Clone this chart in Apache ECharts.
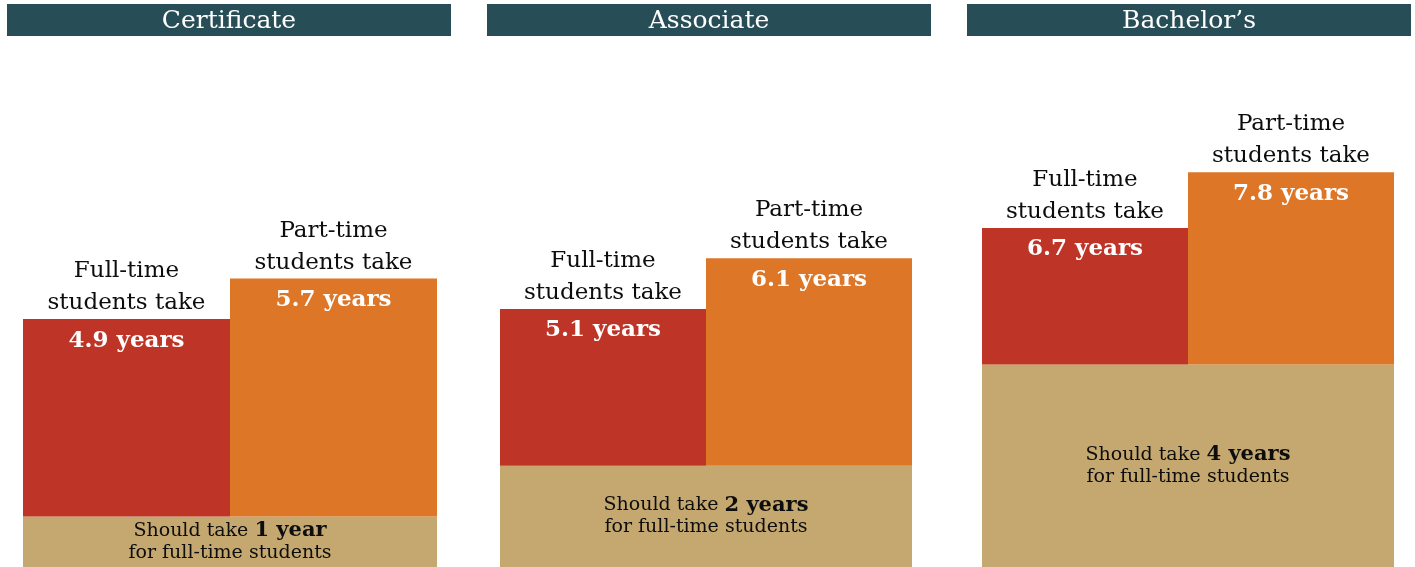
<!DOCTYPE html>
<html>
<head>
<meta charset="utf-8">
<script src="https://cdn.jsdelivr.net/npm/echarts@6/dist/echarts.min.js"></script>
<style>html,body{margin:0;padding:0;background:#fff;}#c{width:1415px;height:567px;}</style>
</head>
<body>
<div id="c"></div>
<script>
// ---- data ----
const degrees = ['Certificate', 'Associate', 'Bachelor\u2019s'];
const shouldTake = [1, 2, 4];
const fullTime = [4.9, 5.1, 6.7];
const partTime = [5.7, 6.1, 7.8];
const groupLabels = ['Full-time\nstudents take', 'Part-time\nstudents take'];
const shouldTakeUnits = ['year', 'years', 'years'];

// ---- style ----
const FONT = "Rockwell, 'DejaVu Serif', serif";
const RED = '#BE3427', ORANGE = '#DD7627', TAN = '#C4A86F', HEAD = '#274D57';
const panelLeft = [23, 500, 982];
const panelWidth = [414, 412, 412];
const headLeft = [7, 487, 967];
const HW = 444;

const grids = [], xAxes = [], yAxes = [], series = [], graphics = [];
degrees.forEach((d, i) => {
  grids.push({left: panelLeft[i], width: panelWidth[i], top: 61, height: 507});
  xAxes.push({type: 'category', gridIndex: i, data: ['Full-time', 'Part-time'], show: false});
  xAxes.push({type: 'category', gridIndex: i, data: ['base'], show: false});
  yAxes.push({type: 'value', gridIndex: i, min: 0, max: 10, show: false});
  const xa = i * 2, xb = i * 2 + 1;
  // base (should take)
  series.push({
    type: 'bar', xAxisIndex: xb, yAxisIndex: i, data: [shouldTake[i]],
    barWidth: '100%', itemStyle: {color: TAN}, silent: true, z: 1,
    label: {show: true, position: 'inside', fontFamily: FONT, color: '#0d0d0d',
      formatter: () => 'Should take {b|' + shouldTake[i] + ' ' + shouldTakeUnits[i] + '}\nfor full-time students',
      fontSize: 19, lineHeight: 22,
      rich: {b: {fontFamily: FONT, fontSize: 21, fontWeight: 'bold', color: '#0d0d0d', lineHeight: 22}}}
  });
  // transparent placeholder so the actual bars begin at the base
  series.push({
    type: 'bar', xAxisIndex: xa, yAxisIndex: i, stack: 's' + i,
    data: [shouldTake[i], shouldTake[i]], barCategoryGap: 0,
    itemStyle: {color: 'rgba(0,0,0,0)'}, silent: true, z: 2
  });
  const totals = [fullTime[i], partTime[i]];
  series.push({
    type: 'bar', xAxisIndex: xa, yAxisIndex: i, stack: 's' + i, barCategoryGap: 0, z: 3,
    data: [
      {value: +(fullTime[i] - shouldTake[i]).toFixed(2), itemStyle: {color: RED}},
      {value: +(partTime[i] - shouldTake[i]).toFixed(2), itemStyle: {color: ORANGE}}
    ],
    label: {show: true, position: 'insideTop', distance: 10, color: '#fff',
      fontFamily: FONT, fontWeight: 'bold', fontSize: 23,
      formatter: p => totals[p.dataIndex] + ' years'}
  });
  series.push({
    type: 'scatter', xAxisIndex: xa, yAxisIndex: i, symbolSize: 0, z: 4,
    data: totals, itemStyle: {opacity: 1},
    label: {show: true, position: 'top', distance: 0, color: '#0d0d0d', opacity: 1,
      fontFamily: FONT, fontSize: 23, lineHeight: 32,
      formatter: p => groupLabels[p.dataIndex]}
  });
  graphics.push({
    type: 'group', left: headLeft[i], top: 4,
    children: [
      {type: 'rect', shape: {x: 0, y: 0, width: HW, height: 32}, style: {fill: HEAD}},
      {type: 'text', x: HW / 2, y: 17, style: {text: d, fill: '#fff', font: '25px ' + FONT, textAlign: 'center', textVerticalAlign: 'middle'}}
    ]
  });
});

const chart = echarts.init(document.getElementById('c'), null, {renderer: 'canvas'});
chart.setOption({
  animation: false,
  grid: grids, xAxis: xAxes, yAxis: yAxes, series: series, graphic: graphics
});
</script>
</body>
</html>
